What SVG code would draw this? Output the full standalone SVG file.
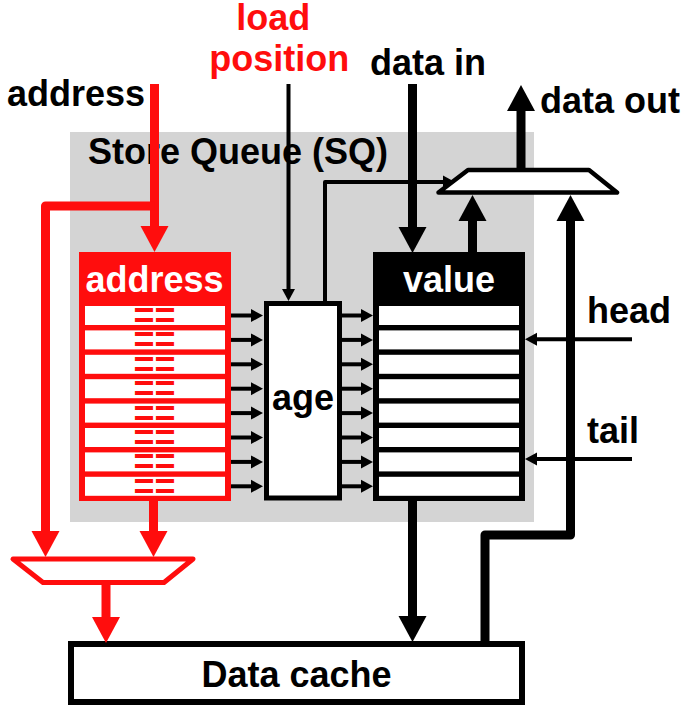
<svg xmlns="http://www.w3.org/2000/svg" width="682" height="709" viewBox="0 0 682 709">
<style>
text{font-family:"Liberation Sans",Arial,sans-serif;font-weight:bold;font-size:36px;fill:#000}
.red{fill:#ff0d0d}
.wt{fill:#fff}
.eq{fill:#ff0d0d;font-size:36px}
.row{fill:#fff}
.thk{stroke:#000;stroke-width:9;fill:none;stroke-linejoin:round}
.thn{stroke:#000;stroke-width:4;fill:none;stroke-linejoin:round}
.rthk{stroke:#ff0d0d;stroke-width:9;fill:none;stroke-linejoin:round}
</style>
<defs>
<marker id="ah" markerUnits="userSpaceOnUse" markerWidth="26" markerHeight="28" refX="13" refY="14" orient="auto" overflow="visible"><path d="M0,0 L26,14 L0,28 z" fill="#000"/></marker>
<marker id="ar" markerUnits="userSpaceOnUse" markerWidth="26" markerHeight="28" refX="13" refY="14" orient="auto" overflow="visible"><path d="M0,0 L26,14 L0,28 z" fill="#ff0d0d"/></marker>
<marker id="as" markerUnits="userSpaceOnUse" markerWidth="12" markerHeight="13" refX="6" refY="6.5" orient="auto" overflow="visible"><path d="M0,0 L12,6.5 L0,13 z" fill="#000"/></marker>
</defs>
<rect width="682" height="709" fill="#fff"/>

<g id="sq">
<rect x="70" y="132" width="464" height="390" fill="#d4d4d4"/>
<text x="88" y="164">Store Queue (SQ)</text>
</g>

<g id="labels">
<text class="red" x="273.3" y="29.5" text-anchor="middle">load</text>
<text class="red" x="279.2" y="71" text-anchor="middle">position</text>
<text x="7" y="106">address</text>
<text x="370" y="75">data in</text>
<text x="540" y="113">data out</text>
<text x="587" y="323">head</text>
<text x="587" y="443">tail</text>
</g>

<g id="address-array">
<rect x="79" y="252" width="152" height="249" fill="#ff0d0d"/>
<text class="wt" x="154.5" y="292" text-anchor="middle">address</text>
<g class="row">
<rect x="85" y="306" width="140" height="19"/>
<rect x="85" y="330.4" width="140" height="19"/>
<rect x="85" y="354.8" width="140" height="19"/>
<rect x="85" y="379.2" width="140" height="19"/>
<rect x="85" y="403.6" width="140" height="19"/>
<rect x="85" y="428" width="140" height="19"/>
<rect x="85" y="452.4" width="140" height="19"/>
<rect x="85" y="476.8" width="140" height="19"/>
</g>
<g text-anchor="middle">
<text class="eq" x="154.5" y="328">==</text>
<text class="eq" x="154.5" y="352.4">==</text>
<text class="eq" x="154.5" y="376.8">==</text>
<text class="eq" x="154.5" y="401.2">==</text>
<text class="eq" x="154.5" y="425.6">==</text>
<text class="eq" x="154.5" y="450">==</text>
<text class="eq" x="154.5" y="474.4">==</text>
<text class="eq" x="154.5" y="498.8">==</text>
</g>
</g>

<g id="age">
<rect x="266.5" y="303.5" width="73" height="194.5" fill="#fff" stroke="#000" stroke-width="5"/>
<text x="303" y="410" text-anchor="middle">age</text>
</g>

<g id="value-array">
<rect x="373" y="252" width="152" height="249" fill="#000"/>
<text class="wt" x="449" y="292" text-anchor="middle">value</text>
<g class="row">
<rect x="379" y="306" width="140" height="19"/>
<rect x="379" y="330.4" width="140" height="19"/>
<rect x="379" y="354.8" width="140" height="19"/>
<rect x="379" y="379.2" width="140" height="19"/>
<rect x="379" y="403.6" width="140" height="19"/>
<rect x="379" y="428" width="140" height="19"/>
<rect x="379" y="452.4" width="140" height="19"/>
<rect x="379" y="476.8" width="140" height="19"/>
</g>
</g>

<g id="mux-out">
<polygon points="468,170 589,170 617,192.5 438.5,192.5" fill="#fff" stroke="#000" stroke-width="4.5" stroke-linejoin="round"/>
</g>

<g id="mux-addr">
<polygon points="13,559 193,559 164,582.5 43,582.5" fill="#fff" stroke="#ff0d0d" stroke-width="5" stroke-linejoin="round"/>
</g>

<g id="data-cache">
<rect x="71" y="644" width="451" height="58" fill="#fff" stroke="#000" stroke-width="6"/>
<text x="296.5" y="687" text-anchor="middle">Data cache</text>
</g>

<g id="connectors">
<path class="rthk" d="M154.5,84 V239" marker-end="url(#ar)"/>
<path class="rthk" d="M154.5,206 H45.5 V544" marker-end="url(#ar)"/>
<path class="rthk" d="M153.5,500 V544" marker-end="url(#ar)"/>
<path class="rthk" d="M106,582 V630" marker-end="url(#ar)"/>
<path class="thn" d="M288.5,84 V295" marker-end="url(#as)"/>
<path class="thn" d="M325,301 V182 H449" marker-end="url(#as)"/>
<path class="thk" d="M412.5,84 V240" marker-end="url(#ah)"/>
<path class="thk" d="M472.5,252 V208" marker-end="url(#ah)"/>
<path class="thk" d="M521,170 V98" marker-end="url(#ah)"/>
<path class="thk" d="M412.5,500 V629" marker-end="url(#ah)"/>
<path class="thk" d="M485,642 V535 H570.5 V208" marker-end="url(#ah)"/>
<path class="thn" d="M632,339.3 H531" marker-end="url(#as)"/>
<path class="thn" d="M632,459 H531" marker-end="url(#as)"/>
<g class="thn">
<path d="M231,315.5 H257" marker-end="url(#as)"/>
<path d="M231,339.9 H257" marker-end="url(#as)"/>
<path d="M231,364.3 H257" marker-end="url(#as)"/>
<path d="M231,388.7 H257" marker-end="url(#as)"/>
<path d="M231,413.1 H257" marker-end="url(#as)"/>
<path d="M231,437.5 H257" marker-end="url(#as)"/>
<path d="M231,461.9 H257" marker-end="url(#as)"/>
<path d="M231,486.3 H257" marker-end="url(#as)"/>
<path d="M342,315.5 H367" marker-end="url(#as)"/>
<path d="M342,339.9 H367" marker-end="url(#as)"/>
<path d="M342,364.3 H367" marker-end="url(#as)"/>
<path d="M342,388.7 H367" marker-end="url(#as)"/>
<path d="M342,413.1 H367" marker-end="url(#as)"/>
<path d="M342,437.5 H367" marker-end="url(#as)"/>
<path d="M342,461.9 H367" marker-end="url(#as)"/>
<path d="M342,486.3 H367" marker-end="url(#as)"/>
</g>
</g>
</svg>
